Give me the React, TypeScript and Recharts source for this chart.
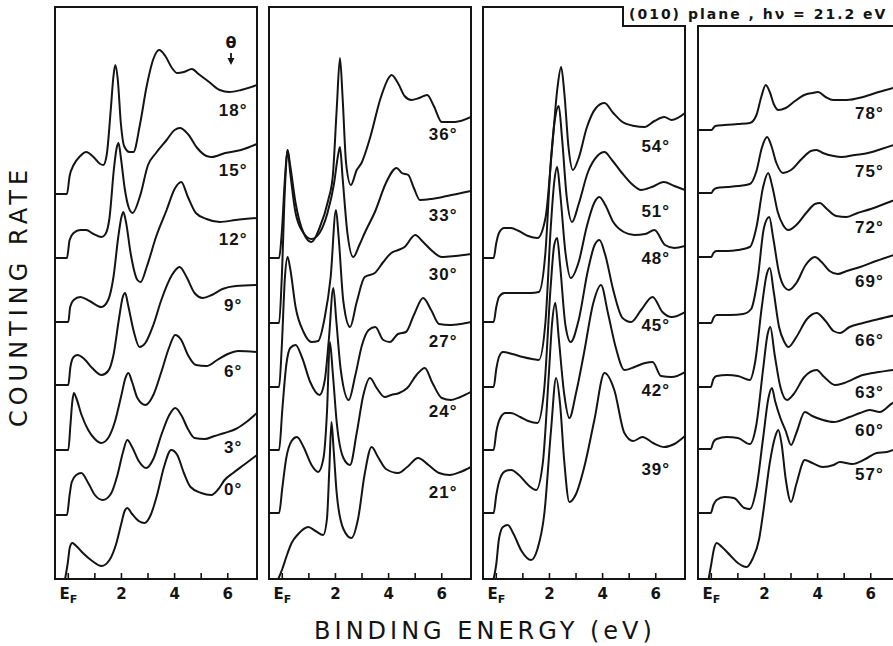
import React from "react";
import { LineChart, Line, XAxis, YAxis, ReferenceDot } from "recharts";

// shared binding-energy window (eV) and ticks
const energyDomain = [-0.5, 7.1];
const energyTicks = [0, 1, 2, 3, 4, 5, 6];
const tickText: Record<number, string> = { 2: "2", 4: "4", 6: "6" };

// panel 1 : theta 0..18 deg, curves as [energy, counts above own baseline]
const angles1 = [0, 3, 6, 9, 12, 15, 18];
const offsets1 = [0, 64, 129, 194, 257, 321, 385];
const p1a0 = [[-0.12,0],[-0.02,16],[0.06,32],[0.15,36],[0.3,33],[0.55,26],[0.9,18],[1.25,13],[1.55,19],[1.8,35],[2.0,56],[2.12,68],[2.22,71],[2.4,65],[2.65,58],[2.87,56],[3.1,64],[3.35,85],[3.6,112],[3.87,129],[4.1,124],[4.35,106],[4.6,92],[5.0,86],[5.38,84],[5.65,90],[5.88,99],[6.2,106],[6.6,114],[7.1,124]];
const p1a3 = [[-0.5,0],[-0.05,0],[0.05,20],[0.13,33],[0.3,40],[0.49,42],[0.75,32],[1.0,20],[1.3,15],[1.6,21],[1.85,40],[2.05,62],[2.22,75],[2.4,68],[2.65,54],[2.93,47],[3.2,56],[3.5,80],[3.8,100],[4.02,107],[4.25,100],[4.5,86],[4.75,77],[5.13,76],[5.5,79],[5.88,82],[6.3,86],[6.7,93],[7.1,102]];
const p1a6 = [[-0.5,0],[0.0,0],[0.08,25],[0.15,48],[0.21,57],[0.3,52],[0.5,35],[0.75,20],[1.0,11],[1.24,7],[1.5,12],[1.75,28],[2.0,55],[2.15,72],[2.26,77],[2.4,68],[2.6,52],[2.9,45],[3.2,55],[3.5,78],[3.8,103],[4.02,115],[4.25,110],[4.5,95],[4.8,85],[5.2,84],[5.6,90],[6.0,96],[6.4,99],[7.1,98]];
const p1a9 = [[-0.5,0],[0.0,0],[0.08,18],[0.2,28],[0.35,30],[0.6,26],[0.9,17],[1.25,10],[1.5,14],[1.7,30],[1.9,65],[2.05,88],[2.14,92],[2.25,80],[2.45,55],[2.68,38],[2.9,42],[3.2,60],[3.5,85],[3.9,110],[4.19,118],[4.45,108],[4.75,92],[5.06,87],[5.4,90],[5.8,96],[6.3,99],[7.1,100]];
const p1a12 = [[-0.5,0],[0.0,0],[0.07,15],[0.2,22],[0.45,25],[0.8,21],[1.25,15],[1.5,22],[1.7,45],[1.88,85],[2.0,105],[2.07,110],[2.17,100],[2.35,68],[2.6,42],[2.72,40],[2.95,55],[3.3,85],[3.7,112],[4.0,133],[4.25,140],[4.5,125],[4.8,109],[5.2,103],[5.7,100],[6.3,102],[7.1,104]];
const p1a15 = [[-0.5,0],[-0.05,0],[0.05,18],[0.2,25],[0.45,28],[0.67,28],[0.95,24],[1.25,21],[1.4,24],[1.55,40],[1.72,90],[1.82,110],[1.89,115],[1.98,100],[2.12,70],[2.28,50],[2.42,45],[2.7,62],[3.0,93],[3.3,105],[3.7,118],[4.0,128],[4.2,130],[4.5,124],[4.85,110],[5.2,102],[5.4,101],[5.9,105],[6.5,108],[7.1,114]];
const p1a18 = [[-0.5,0],[-0.05,0],[0.05,18],[0.2,29],[0.45,38],[0.67,42],[0.95,37],[1.2,30],[1.32,29],[1.45,40],[1.6,85],[1.7,118],[1.77,129],[1.86,115],[1.98,70],[2.1,48],[2.3,42],[2.45,42],[2.7,70],[2.95,108],[3.2,135],[3.42,144],[3.65,138],[3.9,126],[4.1,121],[4.35,122],[4.65,125],[4.9,120],[5.3,112],[5.7,104],[6.05,102],[6.5,104],[7.1,109]];

// panel 2 : 21..36 deg
const angles2 = [21, 24, 27, 30, 33, 36];
const offsets2 = [0, 66, 129, 192, 256, 321];
const p2a21 = [[-0.15,0],[0.0,10],[0.15,22],[0.35,36],[0.6,45],[0.98,52],[1.25,48],[1.54,44],[1.68,60],[1.77,110],[1.85,157],[1.93,130],[2.05,85],[2.3,50],[2.6,41],[2.85,60],[3.1,105],[3.36,132],[3.6,122],[3.9,110],[4.36,106],[4.7,112],[5.11,121],[5.5,114],[5.9,106],[6.3,104],[6.7,107],[7.1,112]];
const p2a24 = [[-0.5,0],[-0.12,0],[0.0,25],[0.15,55],[0.35,72],[0.55,76],[0.8,66],[1.1,48],[1.35,41],[1.55,55],[1.68,100],[1.79,171],[1.9,140],[2.05,90],[2.3,55],[2.55,48],[2.8,80],[3.05,118],[3.3,135],[3.55,125],[3.85,116],[4.1,118],[4.4,120],[4.7,125],[5.05,138],[5.36,145],[5.65,130],[6.0,115],[6.35,113],[6.7,116],[7.1,121]];
const p2a27 = [[-0.5,0],[-0.12,0],[0.0,40],[0.15,85],[0.3,102],[0.5,105],[0.75,92],[1.05,68],[1.4,55],[1.6,70],[1.75,110],[1.92,162],[2.03,130],[2.2,80],[2.5,50],[2.75,75],[3.0,105],[3.25,120],[3.5,123],[3.8,110],[4.05,108],[4.35,116],[4.65,118],[4.95,135],[5.3,152],[5.6,140],[5.9,126],[6.3,125],[6.7,126],[7.1,128]];
const p2a30 = [[-0.5,0],[-0.12,0],[-0.02,40],[0.1,110],[0.2,130],[0.3,118],[0.5,80],[0.8,55],[1.1,45],[1.35,46],[1.6,70],[1.82,110],[2.02,177],[2.12,150],[2.3,85],[2.55,60],[2.8,85],[3.1,110],[3.48,114],[3.8,125],[4.1,134],[4.36,137],[4.6,140],[5.0,152],[5.3,145],[5.6,137],[6.0,130],[6.5,131],[7.1,133]];
const p2a33 = [[-0.5,0],[-0.12,0],[-0.02,45],[0.1,135],[0.2,173],[0.3,150],[0.5,110],[0.8,90],[1.1,84],[1.4,90],[1.7,110],[1.95,140],[2.1,168],[2.17,176],[2.27,145],[2.45,90],[2.67,66],[2.9,78],[3.1,90],[3.5,112],[3.9,140],[4.3,155],[4.5,150],[4.74,148],[4.95,135],[5.18,123],[5.6,124],[6.2,127],[7.1,132]];
const p2a36 = [[-0.5,0],[-0.12,0],[-0.02,25],[0.1,80],[0.2,108],[0.3,92],[0.5,55],[0.8,25],[1.1,16],[1.4,30],[1.73,58],[1.9,82],[2.05,150],[2.17,200],[2.27,160],[2.4,95],[2.58,73],[2.8,88],[2.98,95],[3.3,120],[3.7,160],[4.0,180],[4.11,183],[4.35,175],[4.6,162],[4.86,158],[5.15,160],[5.45,163],[5.7,152],[6.0,136],[6.5,136],[7.1,141]];

// panel 3 : 39..54 deg
const angles3 = [39, 42, 45, 48, 51, 54];
const offsets3 = [0, 66, 129, 192, 257, 321];
const p3a39 = [[-0.1,0],[0.0,15],[0.1,40],[0.25,52],[0.43,54],[0.65,45],[0.95,28],[1.31,19],[1.55,30],[1.81,66],[2.06,149],[2.25,201],[2.4,175],[2.55,120],[2.75,77],[3.0,85],[3.31,112],[3.69,159],[4.07,206],[4.44,189],[4.82,146],[5.15,138],[5.5,142],[5.9,136],[6.32,132],[6.7,135],[7.1,143]];
const p3a42 = [[-0.5,0],[-0.1,0],[0.0,18],[0.15,35],[0.35,42],[0.56,43],[0.85,38],[1.2,28],[1.5,23],[1.75,50],[1.98,140],[2.1,190],[2.22,210],[2.35,175],[2.55,120],[2.75,95],[3.0,120],[3.3,160],[3.65,210],[3.94,228],[4.2,200],[4.5,165],[4.82,143],[5.2,146],[5.6,150],[5.88,151],[6.2,137],[6.6,136],[7.1,141]];
const p3a45 = [[-0.5,0],[-0.1,0],[0.0,18],[0.15,32],[0.35,37],[0.55,37],[0.9,33],[1.2,29],[1.55,27],[1.8,60],[2.05,165],[2.18,205],[2.29,212],[2.4,185],[2.6,125],[2.8,108],[3.1,130],[3.45,180],[3.7,205],[3.88,210],[4.1,195],[4.4,160],[4.75,132],[5.07,128],[5.45,140],[5.88,153],[6.25,138],[6.6,133],[7.1,138]];
const p3a48 = [[-0.5,0],[-0.1,0],[0.0,18],[0.1,30],[0.25,35],[0.6,33],[1.0,30],[1.35,28],[1.6,27],[1.85,65],[2.05,160],[2.18,205],[2.29,220],[2.4,195],[2.6,135],[2.8,109],[3.1,125],[3.4,160],[3.7,185],[3.88,190],[4.1,182],[4.4,165],[4.8,155],[5.2,152],[5.6,153],[5.95,157],[6.35,142],[6.7,139],[7.1,141]];
const p3a51 = [[-0.5,0],[-0.1,0],[0.0,15],[0.1,25],[0.3,29],[0.8,29],[1.3,29],[1.6,30],[1.85,70],[2.05,160],[2.22,205],[2.35,216],[2.47,185],[2.65,125],[2.85,100],[3.1,118],[3.45,150],[3.8,166],[4.07,170],[4.35,162],[4.7,150],[5.1,138],[5.45,132],[5.85,135],[6.3,140],[6.7,136],[7.1,132]];
const p3a54 = [[-0.5,0],[-0.1,0],[0.0,15],[0.1,25],[0.3,30],[0.55,30],[0.85,27],[1.2,22],[1.55,20],[1.85,40],[2.1,110],[2.3,170],[2.44,191],[2.56,165],[2.72,110],[2.88,88],[3.1,100],[3.4,130],[3.75,150],[4.07,155],[4.4,145],[4.75,136],[5.2,132],[5.57,131],[5.95,137],[6.32,141],[6.6,138],[7.1,145]];

// panel 4 : 57..78 deg
const angles4 = [57, 60, 63, 66, 69, 72, 75, 78];
const offsets4 = [0, 66, 130, 192, 256, 322, 386, 449];
const p4a57 = [[-0.1,0],[0.0,15],[0.1,30],[0.2,36],[0.4,32],[0.7,24],[1.0,16],[1.33,12],[1.55,20],[1.8,40],[1.95,66],[2.2,116],[2.4,142],[2.52,149],[2.64,136],[2.8,100],[3.0,77],[3.2,95],[3.52,119],[3.8,116],[4.2,112],[4.6,114],[4.84,117],[5.3,115],[5.8,120],[6.22,126],[6.6,127],[7.1,132]];
const p4a60 = [[-0.5,0],[-0.02,0],[0.08,8],[0.2,13],[0.5,16],[0.85,15],[1.25,5],[1.45,4],[1.7,25],[1.95,75],[2.15,115],[2.28,125],[2.4,112],[2.6,95],[2.8,82],[3.0,68],[3.2,80],[3.52,101],[3.8,97],[4.2,93],[4.6,91],[5.2,96],[5.6,100],[5.96,103],[6.34,101],[6.83,110],[7.1,112]];
const p4a63 = [[-0.5,0],[-0.02,0],[0.08,7],[0.2,10],[0.58,12],[1.0,11],[1.45,5],[1.7,25],[1.95,80],[2.12,115],[2.22,122],[2.38,95],[2.6,62],[2.85,49],[3.1,55],[3.5,72],[3.96,79],[4.25,72],[4.65,64],[5.0,66],[5.7,74],[6.3,77],[7.1,80]];
const p4a66 = [[-0.5,0],[-0.02,0],[0.08,8],[0.2,11],[0.6,12],[1.0,11],[1.45,7],[1.65,25],[1.9,80],[2.08,112],[2.2,119],[2.35,95],[2.55,60],[2.75,45],[2.9,40],[3.2,50],[3.6,68],[3.96,74],[4.3,66],[4.6,56],[4.84,54],[5.2,60],[5.71,64],[6.3,68],[7.1,73]];
const p4a69 = [[-0.5,0],[0.0,0],[0.08,5],[0.2,8],[0.7,8],[1.2,9],[1.5,14],[1.75,45],[1.98,95],[2.18,106],[2.33,85],[2.55,50],[2.75,36],[2.92,33],[3.2,40],[3.55,58],[3.9,66],[4.15,61],[4.45,52],[4.75,49],[5.1,52],[5.6,56],[6.2,62],[7.1,70]];
const p4a72 = [[-0.5,0],[0.0,0],[0.08,4],[0.2,6],[0.6,6],[1.0,7],[1.45,10],[1.7,30],[1.95,70],[2.14,84],[2.3,70],[2.5,45],[2.7,32],[2.9,27],[3.2,32],[3.6,45],[3.9,53],[4.08,54],[4.35,48],[4.7,41],[5.09,40],[5.5,44],[6.0,48],[6.5,53],[7.1,59]];
const p4a75 = [[-0.5,0],[0.0,0],[0.08,3],[0.2,5],[0.6,6],[1.0,7],[1.45,9],[1.7,22],[1.9,45],[2.1,56],[2.25,48],[2.45,30],[2.7,20],[3.0,23],[3.4,34],[3.75,42],[3.96,43],[4.2,40],[4.6,37],[4.9,36],[5.4,38],[5.9,40],[6.4,44],[7.1,50]];
const p4a78 = [[-0.5,0],[0.0,0],[0.08,2],[0.15,4],[0.5,5],[1.0,6],[1.45,7],[1.7,15],[1.88,33],[2.05,45],[2.2,38],[2.35,26],[2.52,20],[2.8,22],[3.1,28],[3.5,35],[3.8,37],[4.02,38],[4.3,33],[4.59,30],[5.09,30],[5.71,33],[6.3,38],[7.1,44]];

const ink = "#141414";
const plotW = 202;
const plotH = 572;
const plotTop = 7;

const panels = [
  { left: 55, tagAt: 6.2, tagDrop: 20, angles: angles1, offsets: offsets1, curves: [p1a0, p1a3, p1a6, p1a9, p1a12, p1a15, p1a18] },
  { left: 269, tagAt: 6.05, tagDrop: 20, angles: angles2, offsets: offsets2, curves: [p2a21, p2a24, p2a27, p2a30, p2a33, p2a36] },
  { left: 483, tagAt: 6.0, tagDrop: 28, angles: angles3, offsets: offsets3, curves: [p3a39, p3a42, p3a45, p3a48, p3a51, p3a54] },
  { left: 698, tagAt: 5.95, tagDrop: 20, angles: angles4, offsets: offsets4, curves: [p4a57, p4a60, p4a63, p4a66, p4a69, p4a72, p4a75, p4a78] },
];

// counts of a curve at energy e (linear between read points)
function valueAt(c: number[][], e: number) {
  for (let i = 0; i < c.length - 1; i++) {
    const [e0, v0] = c[i];
    const [e1, v1] = c[i + 1];
    if (e >= e0 && e <= e1) return v0 + ((v1 - v0) * (e - e0)) / (e1 - e0);
  }
  return c[c.length - 1][1];
}

// highest point of the curve over the width of its tag
function topNear(c: number[][], e: number) {
  let m = valueAt(c, e);
  for (let d = -0.2; d <= 0.2001; d += 0.05) m = Math.max(m, valueAt(c, e + d));
  return m;
}

function EnergyTick(props: any) {
  const { x, y, payload } = props;
  const v = payload.value;
  return (
    <g>
      <line x1={x} x2={x} y1={y} y2={y - 6} stroke={ink} strokeWidth={1.6} />
      {v === 0 ? (
        <text x={x} y={y + 20} textAnchor="middle" fontSize={15} fontWeight="bold" fill={ink}>
          <tspan>E</tspan>
          <tspan fontSize={11} dy={4}>F</tspan>
        </text>
      ) : tickText[v] ? (
        <text x={x} y={y + 20} textAnchor="middle" fontSize={15} fontWeight="bold" fill={ink}>
          {tickText[v]}
        </text>
      ) : null}
    </g>
  );
}

function AngleTag({ cx, cy, text }: { cx?: number; cy?: number; text: string }) {
  return (
    <text x={cx} y={cy} textAnchor="middle" dominantBaseline="central" fontFamily="'Liberation Sans', sans-serif" fontSize={17} fontWeight="bold" letterSpacing={1} fill={ink}>
      {text}
    </text>
  );
}

function Panel({ left, tagAt, tagDrop, angles, offsets, curves }: { left: number; tagAt: number; tagDrop: number; angles: number[]; offsets: number[]; curves: number[][][] }) {
  return (
    <div style={{ position: "absolute", left, top: plotTop }}>
      <LineChart width={plotW} height={plotH + 30} margin={{ top: 0, right: 0, bottom: 0, left: 0 }}>
        <XAxis
          type="number"
          dataKey="e"
          domain={energyDomain}
          allowDataOverflow
          ticks={energyTicks}
          interval={0}
          height={30}
          axisLine={false}
          tickLine={false}
          tickSize={0}
          tickMargin={0}
          tick={(p: any) => <EnergyTick {...p} />}
        />
        <YAxis hide type="number" domain={[0, plotH]} allowDataOverflow />
        {curves.map((c, k) => (
          <Line
            key={k}
            data={c.map(([e, i]) => ({ e, v: offsets[k] + i }))}
            dataKey="v"
            type="monotone"
            stroke={ink}
            strokeWidth={2}
            dot={false}
            isAnimationActive={false}
          />
        ))}
        {curves.map((c, k) => (
          <ReferenceDot
            key={"t" + k}
            x={tagAt}
            y={offsets[k] + topNear(c, tagAt) - tagDrop}
            r={0}
            shape={(p: any) => <AngleTag cx={p.cx} cy={p.cy} text={`${angles[k]}°`} />}
          />
        ))}
      </LineChart>
    </div>
  );
}

export default function App() {
  const bottom = plotTop + plotH;
  return (
    <div
      style={{
        position: "absolute",
        left: 0,
        top: 0,
        width: 893,
        height: 646,
        overflow: "hidden",
        background: "#fff",
        fontFamily: "'DejaVu Sans', sans-serif",
      }}
    >
      {panels.map((p, k) => (
        <Panel key={k} {...p} />
      ))}
      <svg width={893} height={646} style={{ position: "absolute", left: 0, top: 0, pointerEvents: "none" }}>
        <g fill="none" stroke={ink} strokeWidth={2}>
          <rect x={55} y={plotTop} width={plotW} height={plotH} />
          <rect x={269} y={plotTop} width={plotW} height={plotH} />
          <path d={`M483,${plotTop} H623 V26 H685 V${bottom} H483 Z`} />
          <path d={`M900,26 H698 V${bottom} H900`} />
        </g>
        <text x={629} y={19} fontSize={14} fontWeight="bold" letterSpacing={2} fill={ink}>
          (010) plane , hν = 21.2 eV
        </text>
        <text x={231} y={48} textAnchor="middle" fontSize={16} fontWeight="bold" fill={ink}>
          θ
        </text>
        <line x1={231} x2={231} y1={53} y2={63} stroke={ink} strokeWidth={1.8} />
        <path d="M227.5,58 L231,65 L234.5,58 Z" fill={ink} />
        <text x={485} y={639} textAnchor="middle" fontSize={24} letterSpacing={4} fill={ink}>
          BINDING ENERGY (eV)
        </text>
        <text
          x={0}
          y={0}
          transform="translate(27,296) rotate(-90)"
          textAnchor="middle"
          fontSize={24}
          letterSpacing={5}
          fill={ink}
        >
          COUNTING RATE
        </text>
      </svg>
    </div>
  );
}
